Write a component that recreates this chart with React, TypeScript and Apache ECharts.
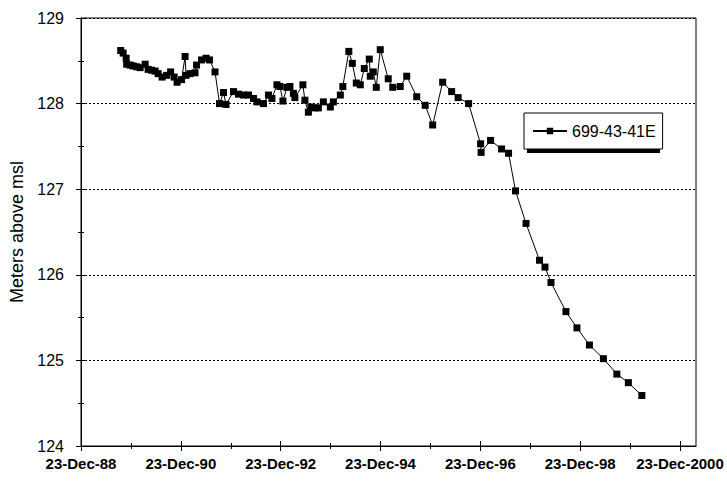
import React, { useEffect, useRef } from "react";
import * as echarts from "echarts";

const years = [
  1989.77, 1989.82, 1989.88, 1989.89, 1989.96, 1990.02, 1990.09, 1990.16, 1990.26, 1990.32,
  1990.39, 1990.46, 1990.52, 1990.6, 1990.69, 1990.77, 1990.84, 1990.9, 1990.99, 1991.06,
  1991.08, 1991.16, 1991.26, 1991.29, 1991.39, 1991.48, 1991.55, 1991.66, 1991.75, 1991.83,
  1991.88, 1992.03, 1992.13, 1992.23, 1992.33, 1992.43, 1992.5, 1992.63, 1992.73, 1992.8,
  1992.9, 1992.96, 1993.02, 1993.1, 1993.16, 1993.23, 1993.26, 1993.42, 1993.46, 1993.53,
  1993.58, 1993.66, 1993.73, 1993.83, 1993.97, 1994.03, 1994.17, 1994.22, 1994.34, 1994.41,
  1994.49, 1994.57, 1994.65, 1994.75, 1994.77, 1994.83, 1994.89, 1994.97, 1995.13, 1995.22,
  1995.37, 1995.5, 1995.7, 1995.87, 1996.02, 1996.22, 1996.4, 1996.53, 1996.74, 1996.98,
  1996.99, 1997.18, 1997.4, 1997.54, 1997.68, 1997.89, 1998.16, 1998.27, 1998.39, 1998.69,
  1998.91, 1999.16, 1999.44, 1999.71, 1999.94, 2000.21,
];

// Water level, meters above msl
const levels = [
  128.62, 128.59, 128.53, 128.46, 128.45, 128.44, 128.43, 128.42, 128.46, 128.4,
  128.39, 128.38, 128.35, 128.31, 128.33, 128.37, 128.31, 128.25, 128.28, 128.55,
  128.33, 128.35, 128.36, 128.45, 128.51, 128.53, 128.51, 128.37, 128.0, 128.13,
  127.99, 128.14, 128.11, 128.1, 128.1, 128.06, 128.02, 128.0, 128.1, 128.06,
  128.22, 128.2, 128.03, 128.19, 128.2, 128.12, 128.07, 128.22, 128.04, 127.9,
  127.96, 127.95, 127.95, 128.02, 127.96, 128.02, 128.1, 128.2, 128.61, 128.47,
  128.24, 128.22, 128.41, 128.52, 128.32, 128.37, 128.19, 128.63, 128.29, 128.19,
  128.2, 128.32, 128.08, 127.98, 127.75, 128.25, 128.14, 128.07, 128.0, 127.53,
  127.43, 127.57, 127.47, 127.42, 126.98, 126.6, 126.17, 126.09, 125.91, 125.57,
  125.38, 125.18, 125.02, 124.84, 124.74, 124.59,
];

const seriesName = "699-43-41E";
const xTickLabels = ["23-Dec-88", "23-Dec-90", "23-Dec-92", "23-Dec-94", "23-Dec-96", "23-Dec-98", "23-Dec-2000"];
const ORIGIN = 1988.975; // 23-Dec-88 as decimal year
const X_MAX = 12.32; // axis end (years after origin)

const FONT = "'Liberation Sans', Arial, sans-serif";

export default function App() {
  const ref = useRef<HTMLDivElement>(null);

  useEffect(() => {
    if (!ref.current) return;
    const chart = echarts.init(ref.current, null, { renderer: "svg" });
    const data = years.map((y, i) => [y - ORIGIN, levels[i]]);
    const evenTicks = xTickLabels.map((_, i) => i * 2);
    const oddTicks = xTickLabels.slice(0, -1).map((_, i) => i * 2 + 1);

    const xBase = {
      type: "value" as const,
      min: 0,
      max: X_MAX,
      position: "bottom" as const,
      splitLine: { show: false },
      axisLine: { show: false },
      axisLabel: { show: false },
    };

    const xAxes = [
      {
        ...xBase,
        axisLine: { show: true, lineStyle: { color: "#000", width: 1 } },
        axisTick: { show: true, customValues: evenTicks, length: 5, lineStyle: { color: "#000" } },
        axisLabel: {
          show: true,
          customValues: evenTicks,
          formatter: (v: number) => xTickLabels[Math.round(v / 2)] ?? "",
          fontFamily: FONT,
          fontWeight: "bold",
          fontSize: 15,
          color: "#000",
          margin: 10,
        },
      },
      { ...xBase, axisTick: { show: true, inside: true, customValues: evenTicks, length: 5, lineStyle: { color: "#000" } } },
      { ...xBase, axisTick: { show: true, customValues: oddTicks, length: 3, lineStyle: { color: "#000" } } },
      { ...xBase, axisTick: { show: true, inside: true, customValues: oddTicks, length: 3, lineStyle: { color: "#000" } } },
    ];

    const yBase = {
      type: "value" as const,
      min: 124,
      max: 129,
      interval: 1,
      position: "left" as const,
    };

    chart.setOption({
      animation: false,
      backgroundColor: "#fff",
      textStyle: { fontFamily: FONT },
      grid: {
        left: 81,
        top: 18,
        right: 31,
        bottom: 35,
        show: true,
        borderColor: "#000",
        borderWidth: 1,
        backgroundColor: "transparent",
      },
      legend: {
        left: 524,
        top: 113,
        z: 10,
        data: [seriesName],
        padding: [10, 7, 10, 8],
        itemWidth: 34,
        itemHeight: 8,
        itemGap: 4,
        borderColor: "#000",
        borderWidth: 1,
        backgroundColor: "#fff",
        textStyle: { fontFamily: FONT, fontSize: 16, color: "#000" },
      },
      graphic: [
        {
          type: "rect",
          z: 5,
          silent: true,
          shape: { x: 527, y: 116, width: 133, height: 37 },
          style: { fill: "#000" },
        },
      ],
      xAxis: xAxes,
      yAxis: [
        {
          ...yBase,
          axisLine: { show: true, lineStyle: { color: "#000", width: 1 } },
          axisTick: { show: true, length: 5, lineStyle: { color: "#000" } },
          minorTick: { show: true, splitNumber: 2, length: 3, lineStyle: { color: "#000" } },
          axisLabel: { fontFamily: FONT, fontSize: 16, color: "#000", margin: 17 },
          splitLine: { show: true, lineStyle: { color: "#000", width: 1, type: [2, 2] } },
          name: "Meters above msl",
          nameLocation: "middle",
          nameGap: 50,
          nameRotate: 90,
          nameTextStyle: { fontFamily: FONT, fontSize: 18, color: "#000" },
        },
        {
          ...yBase,
          axisLine: { show: false },
          axisTick: { show: true, inside: true, length: 5, lineStyle: { color: "#000" } },
          minorTick: { show: true, splitNumber: 2, length: 3, lineStyle: { color: "#000" } },
          axisLabel: { show: false },
          splitLine: { show: false },
        },
      ],
      series: [
        {
          name: seriesName,
          type: "line",
          xAxisIndex: 0,
          yAxisIndex: 0,
          data,
          symbol: "rect",
          symbolSize: 7,
          lineStyle: { color: "#000", width: 1 },
          itemStyle: { color: "#000" },
        },
      ],
    });

    return () => chart.dispose();
  }, []);

  return (
    <div
      ref={ref}
      style={{ position: "fixed", left: 0, top: 0, width: 727, height: 481, background: "#fff" }}
    />
  );
}
